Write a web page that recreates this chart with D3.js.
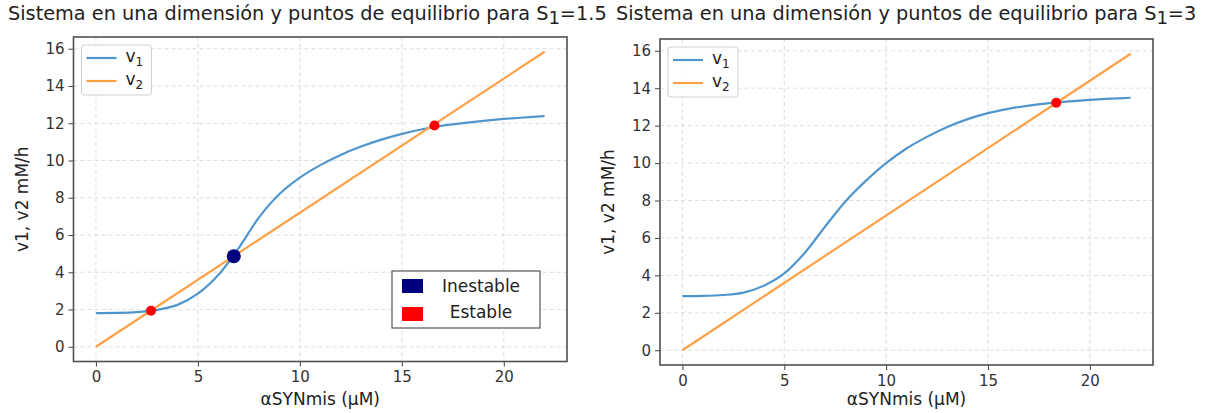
<!DOCTYPE html>
<html>
<head>
<meta charset="utf-8">
<script src="https://cdn.jsdelivr.net/npm/d3@7"></script>
<style>
  body { margin: 0; background: #fff; }
  svg { font-family: "DejaVu Sans", sans-serif; }
</style>
</head>
<body>
<svg id="chart" width="1207" height="413"></svg>
<script>
// sample positions along αSYNmis (μM)
const xs = [0, 1, 2, 3, 4, 5, 6, 7, 8, 9, 10, 11, 12, 13, 14, 15, 16, 17, 18, 19, 20, 21, 22];

// v1, S1 = 1.5 and S1 = 3
const v1Low = [1.81, 1.82, 1.86, 1.98, 2.25, 2.85, 3.85, 5.3, 6.95, 8.2, 9.08, 9.75, 10.3, 10.75, 11.12, 11.43, 11.68, 11.87, 12.01, 12.13, 12.23, 12.31, 12.38];
const v1High = [2.89, 2.9, 2.95, 3.08, 3.45, 4.1, 5.2, 6.6, 7.95, 9.05, 10.0, 10.78, 11.4, 11.93, 12.35, 12.67, 12.9, 13.07, 13.2, 13.3, 13.38, 13.44, 13.49];

// v2 is a straight line
const v2X = [0, 22];
const v2Y = [0, 15.84];

// equilibrium points
const stableLow = [[2.7, 1.93], [16.6, 11.88]];
const unstableLow = [[6.76, 4.86]];
const stableHigh = [[18.35, 13.22]];

const xTicks = [0, 5, 10, 15, 20];
const yTicks = [0, 2, 4, 6, 8, 10, 12, 14, 16];

const titleLow = ['Sistema en una dimensión y puntos de equilibrio para S', '1', '=1.5'];
const titleHigh = ['Sistema en una dimensión y puntos de equilibrio para S', '1', '=3'];
const xLabel = 'αSYNmis (μM)';
const yLabel = 'v1, v2 mM/h';
const markerLabels = ['Inestable', 'Estable'];

const blue = '#5096cd';
const orange = '#ffa046';
const svg = d3.select('#chart');

function drawPanel(p) {
    const x = d3.scaleLinear().domain([-1.1, 23.1]).range([p.left, p.right]);
    const y = d3.scaleLinear().domain([-0.79, 16.63]).range([p.bottom, p.top]);
    const g = svg.append('g');

    // grid
    g.append('g')
        .selectAll('line')
        .data(xTicks)
        .enter()
        .append('line')
            .attr('x1', (d) => x(d)).attr('x2', (d) => x(d))
            .attr('y1', p.top).attr('y2', p.bottom)
            .attr('stroke', '#d6d6d6').attr('stroke-width', 0.8)
            .attr('stroke-dasharray', '4,3');
    g.append('g')
        .selectAll('line')
        .data(yTicks)
        .enter()
        .append('line')
            .attr('x1', p.left).attr('x2', p.right)
            .attr('y1', (d) => y(d)).attr('y2', (d) => y(d))
            .attr('stroke', '#d6d6d6').attr('stroke-width', 0.8)
            .attr('stroke-dasharray', '4,3');

    // axes
    const xAxis = d3.axisBottom(x).tickValues(xTicks).tickSize(5).tickSizeOuter(0).tickPadding(5);
    const yAxis = d3.axisLeft(y).tickValues(yTicks).tickSize(5).tickSizeOuter(0).tickPadding(4);
    const gx = g.append('g')
        .attr('transform', `translate(0, ${p.bottom})`)
        .call(xAxis);
    const gy = g.append('g')
        .attr('transform', `translate(${p.left}, 0)`)
        .call(yAxis);
    [gx, gy].forEach((a) => {
        a.select('.domain').remove();
        a.selectAll('line').attr('stroke', '#444');
        a.selectAll('text')
            .attr('fill', '#333')
            .style('font-size', '15px')
            .style('font-family', '"DejaVu Sans", sans-serif');
    });

    // lines
    const line = d3.line()
        .x((d) => x(d[0]))
        .y((d) => y(d[1]));
    g.append('path')
        .datum(xs.map((d, i) => [d, p.v1[i]]))
        .attr('d', line.curve(d3.curveCatmullRom.alpha(0.5)))
        .attr('fill', 'none')
        .attr('stroke', blue)
        .attr('stroke-width', 2.2);
    g.append('path')
        .datum(v2X.map((d, i) => [d, v2Y[i]]))
        .attr('d', line.curve(d3.curveLinear))
        .attr('fill', 'none')
        .attr('stroke', orange)
        .attr('stroke-width', 2.2);

    // equilibrium points
    g.selectAll('circle.stable')
        .data(p.stable)
        .enter()
        .append('circle')
            .attr('class', 'stable')
            .attr('cx', (d) => x(d[0]))
            .attr('cy', (d) => y(d[1]))
            .attr('r', 5)
            .attr('fill', 'red');
    g.selectAll('circle.unstable')
        .data(p.unstable)
        .enter()
        .append('circle')
            .attr('class', 'unstable')
            .attr('cx', (d) => x(d[0]))
            .attr('cy', (d) => y(d[1]))
            .attr('r', 7)
            .attr('fill', 'navy');

    // frame
    g.append('rect')
        .attr('x', p.left).attr('y', p.top)
        .attr('width', p.right - p.left).attr('height', p.bottom - p.top)
        .attr('fill', 'none').attr('stroke', '#505050').attr('stroke-width', 1.6);

    // line legend
    const lg = g.append('g').attr('transform', `translate(${p.left + 8}, ${p.top + 8})`);
    lg.append('rect')
        .attr('width', 70).attr('height', 50).attr('rx', 3)
        .attr('fill', '#fff').attr('fill-opacity', 0.85)
        .attr('stroke', '#d0d0d0');
    [[blue, '1'], [orange, '2']].forEach((item, i) => {
        lg.append('line')
            .attr('x1', 5).attr('x2', 35)
            .attr('y1', 13 + i * 23).attr('y2', 13 + i * 23)
            .attr('stroke', item[0]).attr('stroke-width', 2.2);
        const t = lg.append('text')
            .attr('x', 44).attr('y', 17 + i * 23)
            .attr('fill', '#222')
            .style('font-size', '17px')
            .text('v');
        t.append('tspan')
            .attr('dy', 4)
            .style('font-size', '12px')
            .text(item[1]);
    });

    // titles and labels
    const tt = svg.append('text')
        .attr('x', p.titleX).attr('y', 20)
        .attr('fill', '#222')
        .style('font-size', '19.3px')
        .text(p.title[0]);
    tt.append('tspan').attr('dy', 4).style('font-size', '18px').text(p.title[1]);
    tt.append('tspan').attr('dy', -4).text(p.title[2]);

    svg.append('text')
        .attr('x', (p.left + p.right) / 2)
        .attr('y', 405)
        .attr('fill', '#222')
        .style('text-anchor', 'middle')
        .style('font-size', '17px')
        .text(xLabel);

    svg.append('text')
        .attr('transform', 'rotate(-90)')
        .attr('x', - (p.top + p.bottom) / 2)
        .attr('y', p.left - 46)
        .attr('fill', '#222')
        .style('text-anchor', 'middle')
        .style('font-size', '17px')
        .text(yLabel);

    return g;
}

const left = drawPanel({
    left: 73.5, right: 567, top: 37, bottom: 361.5,
    v1: v1Low, stable: stableLow, unstable: unstableLow,
    title: titleLow, titleX: 8
});

drawPanel({
    left: 660, right: 1153, top: 39, bottom: 365,
    v1: v1High, stable: stableHigh, unstable: [],
    title: titleHigh, titleX: 616
});

// marker legend on the left panel
const ml = left.append('g').attr('transform', 'translate(392, 271)');
ml.append('rect')
    .attr('width', 148).attr('height', 57)
    .attr('fill', '#fff')
    .attr('stroke', '#555').attr('stroke-width', 1.2);
[['navy', markerLabels[0]], ['red', markerLabels[1]]].forEach((item, i) => {
    ml.append('rect')
        .attr('x', 10).attr('y', 8 + i * 28)
        .attr('width', 21).attr('height', 14)
        .attr('fill', item[0]);
    ml.append('text')
        .attr('x', 89).attr('y', 21 + i * 26)
        .attr('fill', '#222')
        .style('text-anchor', 'middle')
        .style('font-size', '17px')
        .text(item[1]);
});
</script>
</body>
</html>
